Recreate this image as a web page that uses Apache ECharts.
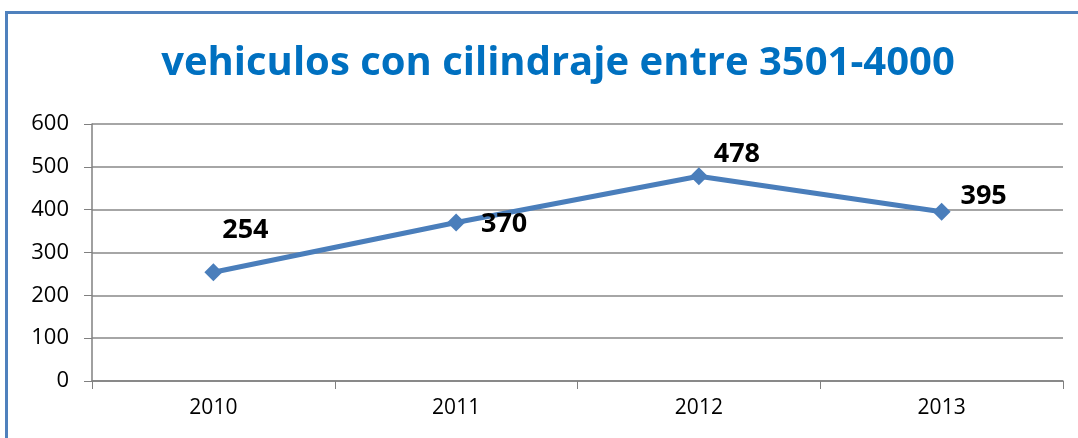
<!DOCTYPE html>
<html>
<head>
<meta charset="utf-8">
<script src="https://cdn.jsdelivr.net/npm/echarts@6/dist/echarts.min.js"></script>
<style>
  html, body { margin: 0; padding: 0; background: #fff; }
  #chart { width: 1078px; height: 438px; }
</style>
</head>
<body>
<div id="chart"></div>
<script>
// datos
const years = ['2010', '2011', '2012', '2013'];
const vehiculos = [254, 370, 478, 395];
const yTicks = [0, 100, 200, 300, 400, 500, 600];

// desplazamiento de cada etiqueta (como quedaron movidas en el original)
const labelOffsets = [[32, -42], [48, 2], [38, -22], [42, -15]];

const chart = echarts.init(document.getElementById('chart'));

const optionData = {
    backgroundColor: '#fff',
    title: {
        text: 'vehiculos con cilindraje entre 3501-4000',
        left: 553,
        textAlign: 'center',
        top: 39,
        textStyle: {
            color: '#0070C0',
            fontFamily: 'Open Sans',
            fontWeight: 'bold',
            fontSize: 40
        }
    },
    graphic: [
        { type: 'rect', shape: { x: 5, y: 11, width: 3, height: 427 }, style: { fill: '#4F81BD' } },
        { type: 'rect', shape: { x: 5, y: 11, width: 1073, height: 3 }, style: { fill: '#4F81BD' } }
    ],
    grid: {
        left: 92,
        right: 15,
        top: 124,
        bottom: 57
    },
    xAxis: {
        type: 'category',
        data: years,
        boundaryGap: true,
        axisLine: { lineStyle: { color: '#808080', width: 1.5 } },
        axisTick: { show: true, length: 8, alignWithLabel: false, lineStyle: { color: '#808080' } },
        axisLabel: { color: '#000', fontFamily: 'Open Sans', fontSize: 21, margin: 17 }
    },
    yAxis: {
        type: 'value',
        min: yTicks[0],
        max: yTicks[yTicks.length - 1],
        interval: 100,
        axisLine: { show: true, lineStyle: { color: '#808080', width: 1.5 } },
        axisTick: { show: true, length: 8, lineStyle: { color: '#808080' } },
        splitLine: { lineStyle: { color: '#888888', width: 1.5 } },
        axisLabel: { color: '#000', fontFamily: 'Open Sans', fontSize: 22, margin: 23 }
    },
    series: [
        {
            name: 'vehiculos',
            type: 'line',
            data: vehiculos.map((v, i) => ({
                value: v,
                label: { offset: labelOffsets[i] }
            })),
            symbol: 'diamond',
            symbolSize: 18,
            lineStyle: { color: '#4A7EBB', width: 5 },
            itemStyle: { color: '#4A7EBB' },
            label: {
                show: true,
                position: 'inside',
                color: '#000',
                fontFamily: 'Open Sans',
                fontWeight: 'bold',
                fontSize: 27
            },
            animation: false
        }
    ]
};
chart.setOption(optionData);
</script>
</body>
</html>
